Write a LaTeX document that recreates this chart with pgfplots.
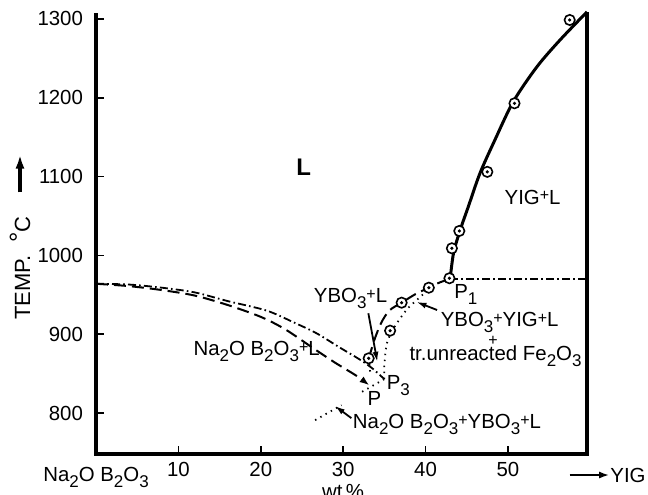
\documentclass[border=0pt]{standalone}
\usepackage{fontspec}
\setmainfont{Liberation Sans}
\usepackage{pgfplots}
\pgfplotsset{compat=1.18}
\usetikzlibrary{arrows.meta}

\newcommand\sub[1]{\raisebox{-0.55ex}{\fontsize{8.5}{9}\selectfont#1}}
\newcommand\pl{\raisebox{0.3ex}{\fontsize{8}{9}\selectfont+}}

\tikzset{
  liq/.style={line width=1.5pt},
  dsh/.style={line width=1pt, dash pattern=on 6pt off 3pt},
  dd/.style={line width=0.9pt, dash pattern=on 4pt off 1.6pt on 0.8pt off 1.6pt},
  dt/.style={line width=0.9pt, dash pattern=on 0.7pt off 2.3pt},
  lab/.style={font=\fontsize{10.2}{11}\selectfont, inner sep=0pt},
  arr/.style={line width=0.9pt, -{Latex[length=5pt,width=3pt]}},
}

\begin{document}
\begin{tikzpicture}
  \begin{axis}[
    name=ax,
    scale only axis,
    width=245.5pt, height=219.5pt,
    xmin=0, xmax=59.6,
    ymin=748, ymax=1305,
    axis x line*=bottom,
    axis y line*=left,
    axis line style={line width=2pt, line cap=rect},
    xtick={10,20,30,40,50},
    ytick={800,900,1000,1100,1200,1300},
    tick align=inside,
    major tick length=4pt,
    every tick/.style={black, line width=0.8pt},
    tick label style={font=\fontsize{10.2}{11}\selectfont},
    yticklabel style={xshift=-3pt},
    xticklabel style={yshift=-0.5pt},
    /pgf/number format/assume math mode=true,
    /pgf/number format/1000 sep={},
    every axis plot/.append style={black},
    clip=false,
  ]
    % right edge of the diagram
    \addplot[line width=2pt] coordinates {(59.6,747)(59.6,1309)};

    % YIG liquidus
    \addplot[liq, smooth] coordinates {
      (43.0,971)(43.4,1003)(44.2,1032)(45.2,1062)(46.6,1104)(48.4,1146)
      (50.65,1195)(53.5,1239)(56.3,1273)(59.6,1309)};

    % peritectic horizontal at P1
    \addplot[dd] coordinates {(43,970)(59.6,970)};

    % Na2O B2O3 liquidus (dash-dot) down to P3
    \addplot[dd, smooth] coordinates {
      (0,964)(4,963)(8,959)(12,953)(16,942)(20.7,930)(24,915)(26.8,901)
      (29.6,883)(32,868)(33.5,857)(35,843)};

    % dashed curve down to P
    \addplot[dsh, smooth, -{Latex[length=5pt,width=3.5pt]}] coordinates {
      (0,964)(4,961)(8,956)(12,949)(16,937)(20,922)(23,906)(26.4,882)
      (29,864)(31.5,848)(33.2,835)};

    % dashed YBO3 curve up to P1
    \addplot[dsh, smooth] coordinates {
      (33.1,869)(33.8,893)(34.6,914)(35.6,930)(37.1,940)(38.8,951)
      (40.4,959)(41.8,966)(43,970)};

    % dotted lines
    \addplot[dt, smooth] coordinates {
      (35,843)(35.0,860)(35.3,888)(36.1,907)(37.7,931)(38.9,943)(40.2,955)};
    \addplot[dt] coordinates {(26.6,791)(29.8,810)};
    \addplot[dt] coordinates {(32.3,827)(35,843)};
    \addplot[dt] coordinates {(33.2,862)(33.3,850)};

    % experimental points
    \addplot[only marks, mark=*, mark size=2.6pt,
             mark options={fill=white, draw=black, line width=0.8pt}] coordinates {
      (57.5,1298.7)(50.8,1193)(47.5,1106)(44.1,1031)(43.2,1009)(42.9,971)
      (40.4,959)(37.1,940)(35.7,904.5)(33.1,869.4)};
    \addplot[only marks, mark=*, mark size=0.6pt] coordinates {
      (57.5,1298.7)(50.8,1193)(47.5,1106)(44.1,1031)(43.2,1009)(42.9,971)
      (40.4,959)(37.1,940)(35.7,904.5)(33.1,869.4)};

    % field labels
    \node[lab, font=\bfseries\fontsize{12}{13}\selectfont] at (axis cs:25.2,1112) {L};
    \node[lab] at (axis cs:53.0,1074) {YIG\pl L};
    \node[lab] at (axis cs:44.9,950) {P\sub1};
    \node[lab] at (axis cs:30.9,945) {YBO\sub3\pl L};
    \node[lab] at (axis cs:49.0,915) {YBO\sub3\pl YIG\pl L};
    \node[lab] at (axis cs:48.2,890) {\pl};
    \node[lab] at (axis cs:48.5,872) {tr.unreacted Fe\sub2O\sub3};
    \node[lab] at (axis cs:19.5,878) {Na\sub2O B\sub2O\sub3\pl L};
    \node[lab] at (axis cs:36.7,835) {P\sub3};
    \node[lab] at (axis cs:33.8,818) {P};
    \node[lab] at (axis cs:42.6,785) {Na\sub2O B\sub2O\sub3\pl YBO\sub3\pl L};

    % leader arrows
    \draw[arr] (axis cs:33.06,926.5) -- (axis cs:34.15,865);
    \draw[arr] (axis cs:41.4,930.7) -- (axis cs:38.9,941);
    \draw[arr] (axis cs:31.0,793.5) -- (axis cs:29.0,809);

    % axis titles
    \node[lab, rotate=90, font=\fontsize{11}{12}\selectfont]
      at ([xshift=-38pt]axis cs:0,984) {TEMP.\ \ \raisebox{0.2ex}{\fontsize{13}{13}\selectfont°}C};
    \draw[line width=1.6pt, -{Latex[length=7pt,width=4.5pt]}]
      ([xshift=-38pt]axis cs:0,1080) -- ([xshift=-38pt]axis cs:0,1128);
    \node[lab] at ([yshift=-11.5pt]axis cs:0,748) {Na\sub2O B\sub2O\sub3};
    \node[lab, anchor=north] at ([yshift=-15pt]axis cs:30,748) {wt\,\%};
    \draw[line width=1.3pt, -{Latex[length=5pt,width=3.5pt]}]
      ([yshift=-10.5pt]axis cs:57.5,748) -- ([yshift=-10.5pt]axis cs:62.3,748);
    \node[lab, anchor=west] at ([yshift=-10.5pt]axis cs:62.4,748) {YIG};
  \end{axis}
  \pgfresetboundingbox
  \path[use as bounding box] ([shift={(-48pt,-20pt)}]ax.south west)
    rectangle ([shift={(276pt,227pt)}]ax.south west);
\end{tikzpicture}
\end{document}
